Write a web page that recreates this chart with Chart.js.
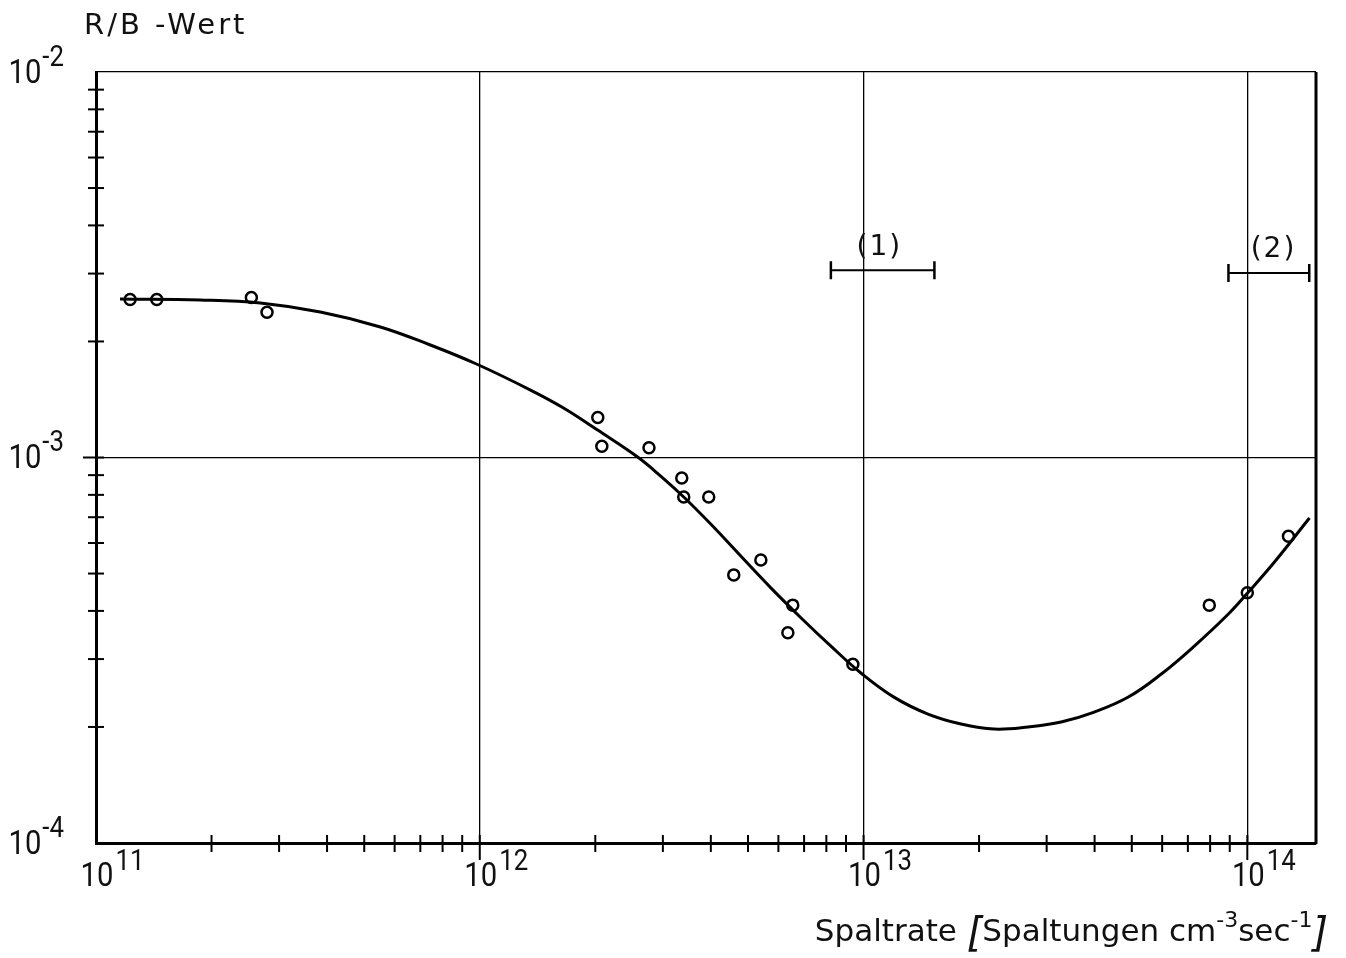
<!DOCTYPE html>
<html>
<head>
<meta charset="utf-8">
<script src="https://cdn.jsdelivr.net/npm/chart.js@4.4.1/dist/chart.umd.min.js"></script>
<style>
  html, body { margin: 0; padding: 0; background: #fff; }
  canvas { display: block; }
</style>
</head>
<body>
<canvas id="rbChart" width="1346" height="958"></canvas>
<script>
// smoothed curve through the measurements (Spaltrate, R/B)
const curveX = [1.155e11, 1.867e11, 2.679e11, 3.841e11, 5.508e11, 7.434e11, 9.804e11, 1.356e12,
  1.653e12, 2.028e12, 2.578e12, 2.961e12, 3.400e12, 3.998e12, 4.787e12, 5.734e12, 6.866e12,
  8.222e12, 9.845e12, 1.200e13, 1.472e13, 1.795e13, 2.189e13, 2.686e13, 3.273e13, 3.992e13,
  4.897e13, 5.970e13, 7.278e13, 8.927e13, 1.007e14, 1.177e14, 1.452e14];
const curveY = [2.577e-3, 2.562e-3, 2.516e-3, 2.384e-3, 2.181e-3, 1.958e-3, 1.748e-3, 1.496e-3,
  1.344e-3, 1.178e-3, 1.003e-3, 8.95e-4, 7.90e-4, 6.72e-4, 5.55e-4, 4.59e-4, 3.84e-4,
  3.24e-4, 2.76e-4, 2.39e-4, 2.16e-4, 2.035e-4, 1.975e-4, 2.00e-4, 2.06e-4, 2.186e-4,
  2.391e-4, 2.744e-4, 3.243e-4, 3.926e-4, 4.478e-4, 5.357e-4, 6.967e-4];

// measured values
const measX = [1.227e11, 1.44e11, 2.54e11, 2.79e11, 2.03e12, 2.08e12, 2.76e12, 3.36e12, 3.40e12,
  3.95e12, 4.59e12, 5.40e12, 6.54e12, 6.35e12, 9.38e12, 7.96e13, 1.00e14, 1.28e14];
const measY = [2.57e-3, 2.57e-3, 2.60e-3, 2.38e-3, 1.27e-3, 1.07e-3, 1.06e-3, 8.85e-4, 7.90e-4,
  7.90e-4, 4.96e-4, 5.42e-4, 4.14e-4, 3.51e-4, 2.91e-4, 4.14e-4, 4.46e-4, 6.25e-4];

// ranges (1) and (2)
const range1X = [8.22e12, 1.53e13];
const range1Y = [3.06e-3, 3.06e-3];
const range2X = [8.93e13, 1.45e14];
const range2Y = [3.01e-3, 3.01e-3];
const rangeLabels = ["(1)", "(2)"];
const rangeLabelX = [1.10e13, 1.17e14];
const rangeLabelY = [3.50e-3, 3.45e-3];

const xMin = 1e11, xMax = 1.51e14;
const yMin = 1e-4, yMax = 1e-2;

const yTitle = "R/B -Wert";
const xTitle = ["Spaltrate ", "[", "Spaltungen cm", "-3", "sec", "-1", "]"];

const tickFont = "Roboto, 'DejaVu Sans', sans-serif";
const textFont = "'DejaVu Sans', 'Liberation Sans', sans-serif";

const toPoints = (xs, ys) => xs.map((x, i) => ({ x: x, y: ys[i] }));

const isPow10 = v => Math.abs(Math.log10(v) - Math.round(Math.log10(v))) < 1e-6;
const isWholeTick = v => {
  const m = v / Math.pow(10, Math.floor(Math.log10(v) + 1e-9));
  return Math.abs(m - Math.round(m)) < 1e-6;
};

function line(ctx, x1, y1, x2, y2) {
  ctx.beginPath();
  ctx.moveTo(x1, y1);
  ctx.lineTo(x2, y2);
  ctx.stroke();
}

// narrow lettering: squeeze the glyphs horizontally
function narrowText(ctx, s, x, y, align, squeeze) {
  const w = ctx.measureText(s).width * squeeze;
  let left = x;
  if (align === 'center') left = x - w / 2;
  if (align === 'right') left = x - w;
  ctx.save();
  ctx.translate(left, y);
  ctx.scale(squeeze, 1);
  ctx.textAlign = 'left';
  ctx.fillText(s, 0, 0);
  ctx.restore();
  return w;
}

// frame, crossing ticks and all the lettering
const axisDecor = {
  id: 'axisDecor',
  afterDraw(chart) {
    const ctx = chart.ctx;
    const a = chart.chartArea;
    const xs = chart.scales.x, ys = chart.scales.y;
    ctx.save();
    ctx.strokeStyle = '#000';
    ctx.fillStyle = '#111';

    ctx.lineWidth = 3;
    line(ctx, a.right, a.top, a.right, a.bottom + 1);

    ctx.lineWidth = 2;
    xs.ticks.forEach(t => {
      if (!isWholeTick(t.value) || t.value <= xMin) return;
      const px = xs.getPixelForValue(t.value);
      const major = isPow10(t.value);
      line(ctx, px, a.bottom - 8, px, a.bottom + (major ? 17 : 9));
    });
    ys.ticks.forEach(t => {
      if (!isWholeTick(t.value) || t.value <= yMin || t.value >= yMax) return;
      const py = ys.getPixelForValue(t.value);
      const major = isPow10(t.value);
      line(ctx, a.left - (major ? 13 : 8), py, a.left + 8, py);
    });

    // tick labels 10^n
    const sq = 0.86;
    const baseFont = '34px ' + tickFont;
    const expFont = '30px ' + tickFont;
    ctx.textBaseline = 'middle';
    xs.ticks.forEach(t => {
      if (!isPow10(t.value)) return;
      const px = xs.getPixelForValue(t.value);
      const e = String(Math.round(Math.log10(t.value)));
      ctx.font = baseFont;
      const wb = narrowText(ctx, '10', px + 1, a.bottom + 34, 'center', sq);
      ctx.font = expFont;
      narrowText(ctx, e, px + 1 + wb / 2 + 2, a.bottom + 19, 'left', sq);
    });
    ys.ticks.forEach(t => {
      if (!isPow10(t.value)) return;
      const py = ys.getPixelForValue(t.value);
      const e = String(Math.round(Math.log10(t.value)));
      const right = a.left - 32;
      ctx.font = expFont;
      const we = narrowText(ctx, e, right, py - 14, 'right', sq);
      ctx.font = baseFont;
      narrowText(ctx, '10', right - we - 1, py + 2, 'right', sq);
    });

    // range markers
    ctx.font = '28px ' + textFont;
    ctx.textAlign = 'center';
    ctx.letterSpacing = '2px';
    rangeLabels.forEach((s, i) => {
      ctx.fillText(s, xs.getPixelForValue(rangeLabelX[i]), ys.getPixelForValue(rangeLabelY[i]));
    });

    // y axis name
    ctx.font = '29px ' + textFont;
    ctx.letterSpacing = '3px';
    ctx.textAlign = 'left';
    ctx.fillText(yTitle, 84, 26);
    ctx.letterSpacing = '0px';

    // x axis name, right-aligned below the axis
    const parts = [
      { s: xTitle[0], f: '31px ' + textFont, dy: 0 },
      { s: xTitle[1], f: 'italic 40px ' + textFont, dy: 3 },
      { s: xTitle[2], f: '31px ' + textFont, dy: 0 },
      { s: xTitle[3], f: '22px ' + textFont, dy: -12 },
      { s: xTitle[4], f: '31px ' + textFont, dy: 0 },
      { s: xTitle[5], f: '22px ' + textFont, dy: -12 },
      { s: xTitle[6], f: 'italic 40px ' + textFont, dy: 3 }
    ];
    let total = 0;
    parts.forEach(p => { ctx.font = p.f; p.w = ctx.measureText(p.s).width; total += p.w; });
    let cx = 1328 - total;
    ctx.textAlign = 'left';
    parts.forEach(p => {
      ctx.font = p.f;
      ctx.fillText(p.s, cx, 933 + p.dy);
      cx += p.w;
    });
    ctx.restore();
  }
};

const rangeStyle = {
  showLine: true,
  borderColor: '#000',
  borderWidth: 2,
  pointStyle: 'line',
  rotation: 90,
  pointRadius: 9,
  pointBorderWidth: 2.5,
  pointBorderColor: '#000'
};

new Chart(document.getElementById('rbChart'), {
  type: 'scatter',
  data: {
    datasets: [
      {
        label: 'Kurve',
        data: toPoints(curveX, curveY),
        showLine: true,
        borderColor: '#000',
        borderWidth: 3,
        pointRadius: 0,
        tension: 0.4
      },
      {
        label: 'Messwerte',
        data: toPoints(measX, measY),
        showLine: false,
        pointRadius: 5.5,
        pointBorderWidth: 2.5,
        pointBorderColor: '#000',
        pointBackgroundColor: 'rgba(255,255,255,0)'
      },
      Object.assign({ label: '(1)', data: toPoints(range1X, range1Y) }, rangeStyle),
      Object.assign({ label: '(2)', data: toPoints(range2X, range2Y) }, rangeStyle)
    ]
  },
  options: {
    responsive: false,
    devicePixelRatio: 1,
    animation: false,
    events: [],
    layout: { padding: { left: 0, top: 72, right: 30, bottom: 0 } },
    plugins: { legend: { display: false }, tooltip: { enabled: false } },
    scales: {
      x: {
        type: 'logarithmic',
        min: xMin,
        max: xMax,
        afterFit: s => { s.height = 115; },
        border: { display: true, color: '#000', width: 3 },
        grid: {
          drawTicks: false,
          lineWidth: 1.3,
          color: c => (c.tick && isPow10(c.tick.value)) ? '#000' : 'rgba(0,0,0,0)'
        },
        ticks: { autoSkip: false, maxRotation: 0, callback: () => '' }
      },
      y: {
        type: 'logarithmic',
        min: yMin,
        max: yMax,
        afterFit: s => { s.width = 96; },
        border: { display: true, color: '#000', width: 3 },
        grid: {
          drawTicks: false,
          lineWidth: 1.3,
          color: c => (c.tick && isPow10(c.tick.value)) ? '#000' : 'rgba(0,0,0,0)'
        },
        ticks: { autoSkip: false, callback: () => '' }
      }
    }
  },
  plugins: [axisDecor]
});
</script>
</body>
</html>
